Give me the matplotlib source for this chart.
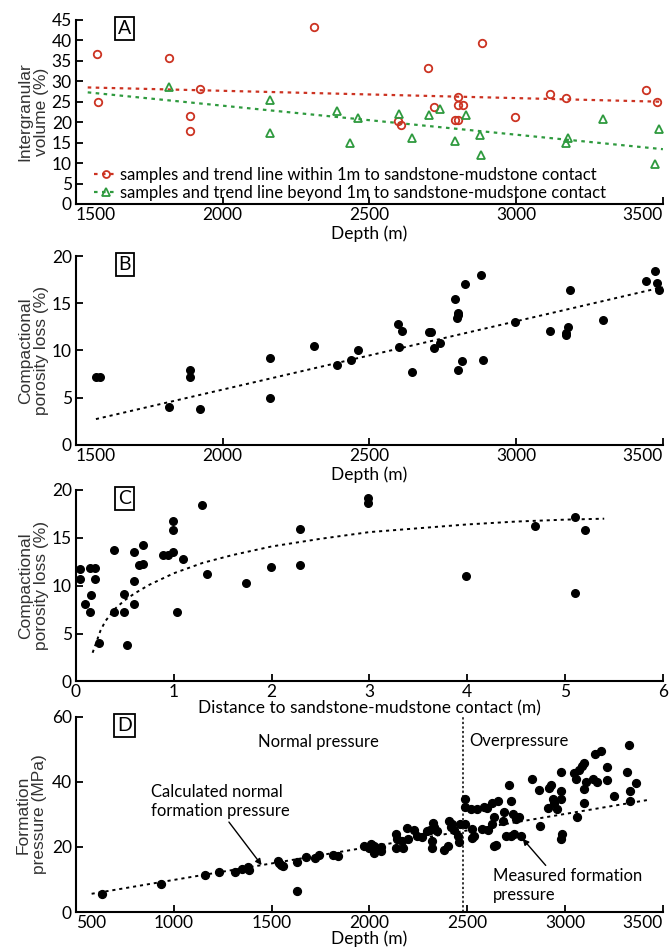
import matplotlib
matplotlib.use('Agg')
import matplotlib.pyplot as plt
from matplotlib.lines import Line2D

plt.rcParams['font.family'] = ['Lato', 'DejaVu Sans']

# ---------------- Panel A data ----------------
a_red_depth = [1570, 1574, 1816, 1887, 1887, 1923, 2311, 2598, 2609, 2701, 2721,
               2790, 2801, 2801, 2801, 2818, 2884, 2997, 3114, 3170, 3443, 3479]
a_red_vol = [36.7, 24.9, 35.8, 21.5, 17.8, 28.1, 43.2, 20.3, 19.3, 33.3, 23.7,
             20.6, 20.6, 26.1, 24.3, 24.3, 39.4, 21.3, 27.0, 26.0, 27.8, 24.9]
a_grn_depth = [1816, 2162, 2162, 2388, 2435, 2461, 2601, 2645, 2702, 2741, 2790,
               2830, 2878, 2880, 3170, 3176, 3297, 3472, 3488]
a_grn_vol = [28.6, 25.5, 17.4, 22.7, 14.9, 21.1, 21.9, 16.2, 21.7, 23.2, 15.4,
             21.8, 16.9, 11.9, 14.8, 16.2, 20.8, 9.7, 18.4]
a_trend_depth = [1540, 3500]
a_red_trend = [28.5, 25.0]
a_grn_trend = [27.3, 13.4]
a_labels = ['samples and trend line within 1m to sandstone-mudstone contact',
            'samples and trend line beyond 1m to sandstone-mudstone contact']

# ---------------- Panel B data ----------------
b_depth = [1568, 1581, 1816, 1887, 1887, 1923, 2162, 2162, 2311, 2388, 2436, 2461,
           2598, 2601, 2610, 2646, 2702, 2710, 2721, 2741, 2790, 2797, 2801, 2803,
           2802, 2816, 2827, 2880, 2886, 2997, 3114, 3170, 3170, 3176, 3184, 3297,
           3443, 3472, 3479, 3488]
b_loss = [7.18, 7.18, 3.97, 7.97, 7.15, 3.76, 9.2, 4.96, 10.46, 8.44, 8.96, 10.0,
          12.85, 10.36, 12.1, 7.76, 11.97, 11.97, 10.26, 10.77, 15.5, 13.4, 13.8, 14.0,
          7.97, 8.85, 17.0, 18.0, 9.0, 13.0, 12.1, 11.6, 11.8, 12.5, 16.4, 13.2,
          17.4, 18.4, 17.1, 16.4]
b_trend_depth = [1568, 3499]
b_trend_loss = [2.74, 16.7]

# ---------------- Panel C data ----------------
c_dist = [0.04, 0.04, 0.09, 0.14, 0.15, 0.14, 0.19, 0.19, 0.24, 0.39,
          0.39, 0.49, 0.49, 0.52, 0.59, 0.59, 0.59, 0.64, 0.69, 0.69,
          0.89, 0.94, 0.99, 0.99, 0.99, 1.03, 1.09, 1.29, 1.34, 1.74,
          1.99, 2.29, 2.29, 2.99, 2.99, 3.99, 4.69, 5.10, 5.10, 5.20]
c_loss = [11.7, 10.7, 8.1, 7.3, 9.05, 11.8, 11.8, 10.7, 4.0, 13.75,
          7.3, 9.15, 7.3, 3.8, 13.5, 10.5, 8.1, 12.2, 14.2, 12.3,
          13.2, 13.2, 13.5, 15.85, 16.75, 7.3, 12.75, 18.4, 11.25, 10.3,
          12.0, 15.95, 12.2, 19.2, 18.6, 11.0, 16.2, 17.2, 9.2, 15.85]
c_curve_dist = [0.17, 0.25, 0.3, 0.4, 0.5, 0.6, 0.75, 1.0, 1.3, 1.6, 2.0,
                2.5, 3.0, 3.5, 4.0, 4.5, 5.0, 5.4]
c_curve_loss = [3.0, 5.3, 6.3, 7.6, 8.5, 9.2, 10.1, 11.3, 12.4, 13.2, 14.1,
                14.9, 15.6, 16.0, 16.4, 16.7, 16.9, 17.0]

# ---------------- Panel D data ----------------
d_depth = [635, 936, 1161, 1232, 1314, 1351, 1385, 1381, 1534, 1540, 1546, 1556,
           1632, 1632, 1678, 1720, 1742, 1814, 1840,
           1971, 1997, 2010, 2022, 2022, 2060, 2060, 2138, 2141, 2138, 2167, 2172,
           2193, 2198, 2227, 2244, 2270, 2295, 2312, 2320, 2326, 2332, 2346, 2320,
           2380, 2400, 2405, 2415, 2423, 2432, 2452, 2457, 2462,
           2486, 2490, 2520, 2551, 2588, 2602, 2625, 2656, 2486, 2524, 2524, 2537,
           2575, 2608, 2625, 2639, 2647, 2639, 2681, 2690, 2698, 2715, 2724, 2732,
           2724, 2749, 2766, 2741, 2775, 2829, 2868, 2873, 2914, 2919, 2927, 2936,
           2944, 2958, 2978, 2981, 2981, 2986, 2978, 3046, 3054, 3059, 3071, 3088,
           3097, 3097, 3105, 3097, 3151, 3185, 3144, 3165, 3215, 3215, 3249, 3317,
           3325, 3334, 3334, 3364]
d_press = [5.6, 8.7, 11.4, 12.2, 12.4, 13.3, 13.0, 13.8, 15.6, 15.0, 14.5, 14.0,
           15.3, 6.6, 16.9, 16.6, 17.6, 17.6, 17.3,
           20.2, 19.7, 20.9, 20.4, 18.1, 18.7, 20.0, 24.0, 22.3, 19.7, 21.8, 19.7,
           25.9, 22.3, 25.2, 23.3, 23.1, 24.8, 25.2, 19.7, 27.2, 26.2, 24.8, 21.8,
           18.9, 20.4, 27.9, 26.2, 26.9, 25.2, 23.3, 21.4, 26.9,
           34.6, 32.4, 31.5, 31.5, 32.4, 31.8, 33.4, 34.1, 26.9, 25.4, 22.8, 23.3,
           25.6, 25.2, 26.9, 29.3, 20.7, 20.4, 27.9, 30.7, 23.5, 39.0, 34.1, 30.0,
           23.5, 28.5, 29.3, 24.1, 23.5, 40.8, 37.4, 26.4, 31.8, 38.2, 39.0, 34.6,
           33.4, 31.5, 42.9, 37.2, 34.6, 24.1, 22.5, 42.7, 41.0, 29.3, 43.7, 44.7,
           45.8, 37.9, 39.8, 33.4, 48.6, 49.6, 41.0, 39.8, 44.4, 40.6, 35.7, 43.1,
           51.3, 37.2, 34.1, 39.6]
d_trend_depth = [580, 3422]
d_trend_press = [5.6, 34.4]
d_boundary_depth = 2480

RED = '#cc3322'
GREEN = '#2e9a3e'
DOT = (0, (1.6, 2.0))
TICKFS = 12.5
LABFS = 12.5
YLABFS = 12.5

fig = plt.figure(figsize=(6.7, 9.51), dpi=100)
L, W = 0.1134, 0.876
axA = fig.add_axes([L, 0.7855, W, 0.1935])
axB = fig.add_axes([L, 0.5321, W, 0.1987])
axC = fig.add_axes([L, 0.2834, W, 0.2014])
axD = fig.add_axes([L, 0.0410, W, 0.2054])


def style(ax, letter, ylabel, ylab_x=-0.046):
    for s in ['top', 'right']:
        ax.spines[s].set_visible(False)
    for s in ['left', 'bottom']:
        ax.spines[s].set_linewidth(1.5)
    ax.tick_params(direction='in', length=5, width=1.3, labelsize=TICKFS)
    ax.tick_params(axis='y', pad=3)
    ax.tick_params(axis='x', pad=2)
    ax.set_ylabel(ylabel, fontsize=YLABFS, family=['Liberation Sans', 'DejaVu Sans'],
                  linespacing=1.1, color='#333333')
    ax.yaxis.set_label_coords(ylab_x, 0.5)
    ax.text(0.083, 0.955, letter, transform=ax.transAxes, fontsize=14,
            ha='center', va='center',
            bbox=dict(boxstyle='square,pad=0.15', fc='white', ec='black', lw=1.3))


def edge_ticks(ax, first='left', last='right'):
    ticks = ax.xaxis.get_major_ticks()
    if first:
        ticks[0].label1.set_horizontalalignment(first)
    if last:
        ticks[-1].label1.set_horizontalalignment(last)


# ---------------- Panel A ----------------
axA.plot(a_trend_depth, a_red_trend, color=RED, ls=DOT, lw=1.6)
axA.plot(a_trend_depth, a_grn_trend, color=GREEN, ls=DOT, lw=1.6)
axA.plot(a_red_depth, a_red_vol, ls='none', marker='o', ms=5.4, mfc='none',
         mec=RED, mew=1.3, clip_on=False)
axA.plot(a_grn_depth, a_grn_vol, ls='none', marker='^', ms=6.2, mfc='none',
         mec=GREEN, mew=1.3, clip_on=False)
axA.set_xlim(1500, 3500)
axA.set_ylim(0, 45)
axA.set_xticks([1500, 2000, 2500, 3000, 3500])
axA.set_yticks(range(0, 46, 5))
axA.set_xlabel('Depth (m)', fontsize=LABFS, labelpad=2)
style(axA, 'A', 'Intergranular\nvolume (%)')
edge_ticks(axA)
hA = [Line2D([], [], color=RED, ls=DOT, lw=1.6, marker='o', ms=5, mfc='none', mec=RED, mew=1.3),
      Line2D([], [], color=GREEN, ls=DOT, lw=1.6, marker='^', ms=6, mfc='none', mec=GREEN, mew=1.3)]
axA.legend(hA, a_labels, loc='lower left', bbox_to_anchor=(0.025, 0.0), frameon=False,
           fontsize=12, handlelength=1.4, handletextpad=0.15, labelspacing=0.1,
           borderaxespad=0.1, borderpad=0.1)

# ---------------- Panel B ----------------
axB.plot(b_trend_depth, b_trend_loss, color='black', ls=DOT, lw=1.4)
axB.scatter(b_depth, b_loss, s=30, color='black', zorder=3, clip_on=False)
axB.set_xlim(1500, 3500)
axB.set_ylim(0, 20)
axB.set_xticks([1500, 2000, 2500, 3000, 3500])
axB.set_yticks([0, 5, 10, 15, 20])
axB.set_xlabel('Depth (m)', fontsize=LABFS, labelpad=2)
style(axB, 'B', 'Compactional\nporosity loss (%)')
edge_ticks(axB)

# ---------------- Panel C ----------------
axC.plot(c_curve_dist, c_curve_loss, color='black', ls=DOT, lw=1.4)
axC.scatter(c_dist, c_loss, s=30, color='black', zorder=3, clip_on=False)
axC.set_xlim(0, 6)
axC.set_ylim(0, 20)
axC.set_xticks(range(0, 7))
axC.set_yticks([0, 5, 10, 15, 20])
axC.set_xlabel('Distance to sandstone-mudstone contact (m)', fontsize=LABFS, labelpad=0)
style(axC, 'C', 'Compactional\nporosity loss (%)')

# ---------------- Panel D ----------------
axD.plot(d_trend_depth, d_trend_press, color='black', ls=DOT, lw=1.4)
axD.plot([d_boundary_depth, d_boundary_depth], [0, 60], color='black',
         ls=(0, (1.5, 1.5)), lw=1.1)
axD.scatter(d_depth, d_press, s=32, color='black', zorder=3, clip_on=False)
axD.set_xlim(500, 3500)
axD.set_ylim(0, 60)
axD.set_xticks([500, 1000, 1500, 2000, 2500, 3000, 3500])
axD.set_yticks([0, 20, 40, 60])
axD.set_xlabel('Depth (m)', fontsize=LABFS, labelpad=0)
style(axD, 'D', 'Formation\npressure (MPa)', ylab_x=-0.05)
edge_ticks(axD)
axD.text(1432, 52.2, 'Normal pressure', fontsize=12, ha='left', va='center')
axD.text(2512, 52.6, 'Overpressure', fontsize=12, ha='left', va='center')
axD.annotate('Calculated normal\nformation pressure', xy=(1449, 14.4), xytext=(881, 33.9),
             fontsize=12, ha='left', va='center', linespacing=1.25,
             arrowprops=dict(arrowstyle='-|>', lw=1.0, color='black', mutation_scale=9,
                             shrinkA=0, shrinkB=0, relpos=(0.55, 0.0)))
axD.annotate('Measured formation\npressure', xy=(2783, 22.5), xytext=(2631, 8.05),
             fontsize=12, ha='left', va='center', linespacing=1.25,
             arrowprops=dict(arrowstyle='-|>', lw=1.0, color='black', mutation_scale=9,
                             shrinkA=0, shrinkB=0, relpos=(0.37, 1.0)))

fig.savefig('out.png', dpi=100)
